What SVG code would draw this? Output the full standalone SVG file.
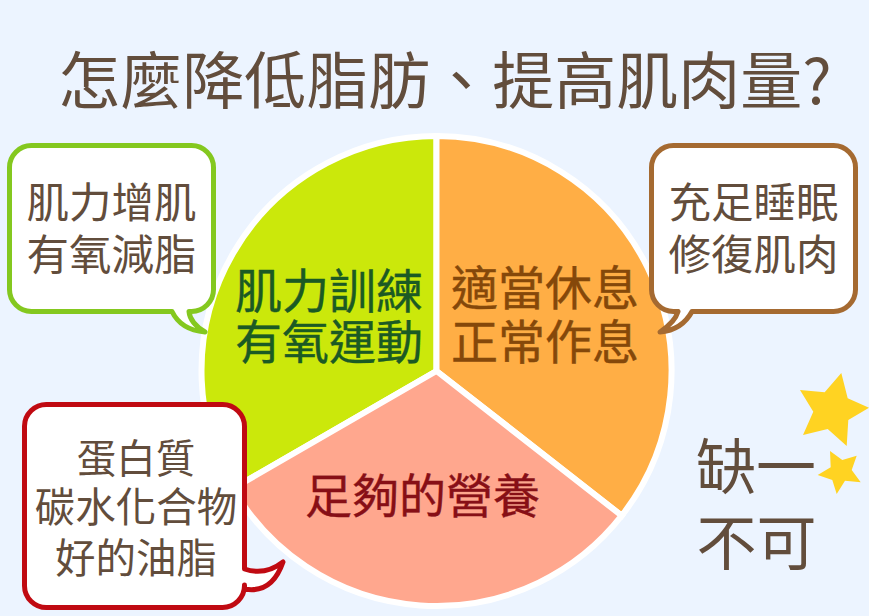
<svg xmlns="http://www.w3.org/2000/svg" width="869" height="616" viewBox="0 0 869 616">
<style>
text{font-family:"Noto Sans CJK TC","Noto Sans CJK SC",sans-serif;text-anchor:middle}
.b{fill:#624d3c}
.c{font-size:42.500px}
.r{font-size:40.500px}
.p{font-size:47px;stroke-width:.4}
.w{stroke:#fff;stroke-width:6;stroke-linejoin:miter}
.s{fill:#ffd322}
.bub{fill:#fff;stroke-width:5;stroke-linejoin:round}
</style>
<rect width="869" height="616" fill="#ecf4ff"/>
<g id="title"><text class="b" x="445" y="104" font-size="62">怎麼降低脂肪、提高肌肉量?</text></g>
<g id="connectors"></g>
<g id="pie-green"><path class="w" fill="#cbe80b" d="M436.5 371V136A235 235 0 0 0 233 488.500Z"/><text x="329" y="308" class="p" fill="#1b5a24" stroke="#1b5a24">肌力訓練</text><text x="329" y="359" class="p" fill="#1b5a24" stroke="#1b5a24">有氧運動</text></g>
<g id="pie-orange"><path class="w" fill="#ffae45" d="M436.5 371V136A235 235 0 0 1 621.700 515.700Z"/><text x="545" y="305" class="p" fill="#85480a" stroke="#85480a">適當休息</text><text x="545" y="359" class="p" fill="#85480a" stroke="#85480a">正常作息</text></g>
<g id="pie-salmon"><path class="w" fill="#ffa78e" d="M436.5 371L621.700 515.700A235 235 0 0 1 233 488.500Z"/><text x="422.500" y="513" class="p" fill="#870f16" stroke="#870f16">足夠的營養</text></g>
<g id="bubble-green"><path class="bub" stroke="#84c81f" d="M32 145.5H191A22 22 0 0 1 213.5 168V289A22 22 0 0 1 191 311.5H189Q190 323 205 332Q181 330 172 311.5H32A22 22 0 0 1 9.500 289V168A22 22 0 0 1 32 145.5Z"/><text class="c b" x="111.500" y="218">肌力增肌</text><text class="c b" x="111.500" y="270">有氧減脂</text></g>
<g id="bubble-brown"><path class="bub" stroke="#a56a31" d="M674 145.500H833A22 22 0 0 1 855.500 168V289A22 22 0 0 1 833 311.500H692Q682 330 660 332Q675 322 678 311.500H674A22 22 0 0 1 651.500 289V168A22 22 0 0 1 674 145.500Z"/><text class="c b" x="753.500" y="218">充足睡眠</text><text class="c b" x="753.500" y="270">修復肌肉</text></g>
<g id="bubble-red"><path class="bub" stroke="#c00a12" d="M48 404.500H222A22 22 0 0 1 244.500 427V569Q265 576 283 562Q272 594 244.500 589V585A22 22 0 0 1 222 607.500H48A22 22 0 0 1 24.500 585V427A22 22 0 0 1 48 404.500Z"/><text class="r b" x="136" y="473" style="font-size:39.500px">蛋白質</text><text class="r b" x="136" y="522">碳水化合物</text><text class="r b" x="136" y="573">好的油脂</text></g>
<g id="stars"><path class="s" d="M841.3 373L847.700 398.300L869 407.700L848.300 420L846.700 446L827.700 429L803 435L813.300 411.700L800 390L824.700 392.300Z"/><path class="s" d="M830 451L842.300 460L856.700 455.700L851.700 470L860.700 482.300L845 480.700L836.700 494L832.300 480L817.700 475L830.700 467.300Z"/></g>
<g id="note"><text class="b" x="756" y="489" font-size="60">缺一</text><text class="b" x="756.500" y="565" font-size="60">不可</text></g>
</svg>
